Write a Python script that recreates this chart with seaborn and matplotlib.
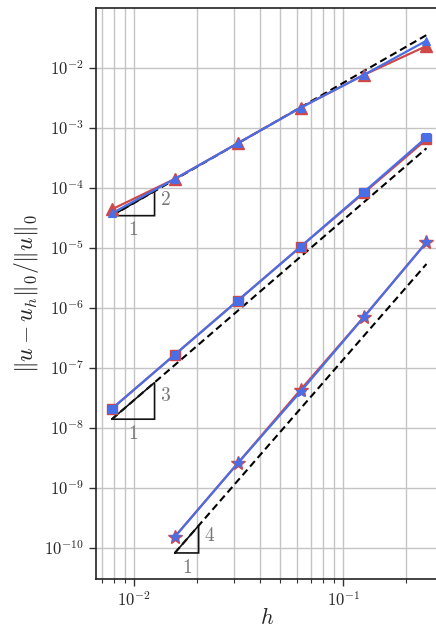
import numpy as np
import pandas as pd
import matplotlib
matplotlib.use("Agg")
import matplotlib.pyplot as plt
import matplotlib.ticker as mticker
import seaborn as sns

# Mesh sizes
h = [1/128, 1/64, 1/32, 1/16, 1/8, 1/4]

# Relative L2 errors, first-order elements (triangles)
err_p1_red = [4.36e-5, 1.40e-4, 5.5e-4, 2.16e-3, 7.55e-3, 2.30e-2]
err_p1_blue = [3.74e-5, 1.40e-4, 5.5e-4, 2.16e-3, 7.55e-3, 2.82e-2]
# Second-order elements (squares)
err_p2_red = [2.07e-8, 1.65e-7, 1.31e-6, 1.04e-5, 8.1e-5, 6.4e-4]
err_p2_blue = [2.07e-8, 1.65e-7, 1.31e-6, 1.04e-5, 8.4e-5, 6.9e-4]
# Third-order elements (stars), coarsest five meshes
h_p3 = [1/64, 1/32, 1/16, 1/8, 1/4]
err_p3_red = [1.52e-10, 2.55e-9, 4.3e-8, 6.9e-7, 1.23e-5]
err_p3_blue = [1.52e-10, 2.55e-9, 4.0e-8, 6.9e-7, 1.23e-5]

# Reference slopes C*h^p, with C fixed by the value at h = 1/4
ref_slopes = [2, 3, 4]
ref_at_quarter = [3.5e-2, 4.54e-4, 5.35e-6]
ref_h_start = [1/128, 1/128, 1/64]
tri_width = [1.6, 1.6, 1.3]

# Decade ticks
x_tick_exponents = [-2, -1]
y_tick_exponents = list(range(-10, -1))

sns.set_style("ticks")
plt.rcParams["font.family"] = ["DejaVu Serif", "DejaVu Sans"]
plt.rcParams["mathtext.fontset"] = "cm"

RED = "#d04848"
BLUE = "#4a6ee6"

fig = plt.figure(figsize=(4.36, 6.30), dpi=100)
ax = fig.add_axes([0.2195, 0.0805, 0.7805, 0.9063])

groups = [
    (h, err_p1_red, err_p1_blue, "^", 8, 6),
    (h, err_p2_red, err_p2_blue, "s", 7, 5.5),
    (h_p3, err_p3_red, err_p3_blue, "*", 10, 8),
]
for hh, er, eb, mk, ms_r, ms_b in groups:
    df = pd.DataFrame({"h": hh, "red": er, "blue": eb})
    sns.lineplot(data=df, x="h", y="red", ax=ax, color=RED, lw=1.6,
                 marker=mk, markersize=ms_r, markeredgecolor=RED,
                 markeredgewidth=1.0, zorder=4)
    sns.lineplot(data=df, x="h", y="blue", ax=ax, color=BLUE, lw=1.6,
                 marker=mk, markersize=ms_b, markeredgecolor=BLUE,
                 markeredgewidth=0.8, zorder=5)

# Dashed reference lines and slope triangles
for p, c4, h0, w in zip(ref_slopes, ref_at_quarter, ref_h_start, tri_width):
    C = c4 / 0.25 ** p
    hr = np.array([h0, 0.25])
    ax.plot(hr, C * hr ** p, ls=(0, (3.5, 2)), color="black", lw=1.5, zorder=3)
    y0 = C * h0 ** p
    h1 = h0 * w
    y1 = y0 * w ** p
    ax.plot([h0, h1, h1, h0], [y0, y0, y1, y0], color="#111111", lw=1.2,
            solid_joinstyle="miter", zorder=3)
    ax.text(h1 * 1.06, y0 * (y1 / y0) ** 0.62, f"${p}$", color="#777777",
            fontsize=14, ha="left", va="center")
    ax.text(np.sqrt(h0 * h1), y0 / 1.25, "$1$", color="#777777",
            fontsize=14, ha="center", va="top")

ax.set_xscale("log")
ax.set_yscale("log")
ax.set_xlim(10 ** -2.1847, 10 ** -0.5565)
ax.set_ylim(10 ** -10.527, 10 ** -1.01)

ax.xaxis.set_major_locator(mticker.FixedLocator([10.0 ** e for e in x_tick_exponents]))
ax.yaxis.set_major_locator(mticker.FixedLocator([10.0 ** e for e in y_tick_exponents]))
ax.yaxis.set_minor_locator(mticker.NullLocator())
fmt = mticker.FuncFormatter(lambda v, pos: f"$10^{{{int(round(np.log10(v)))}}}$")
ax.xaxis.set_major_formatter(fmt)
ax.yaxis.set_major_formatter(fmt)
ax.xaxis.set_minor_formatter(mticker.NullFormatter())

ax.grid(True, which="both", axis="x", color="#c4c4c4", lw=1.0)
ax.grid(True, which="major", axis="y", color="#c4c4c4", lw=1.0)
ax.set_axisbelow(True)

ax.tick_params(axis="both", which="major", labelsize=12, length=5, width=1,
               color="#333333")
ax.tick_params(axis="x", which="minor", length=3, width=0.8, color="#333333")
for side in ("left", "bottom", "top"):
    ax.spines[side].set_color("#222222")
    ax.spines[side].set_linewidth(1.2)
ax.spines["right"].set_visible(False)

ax.set_xlabel("$h$", fontsize=16)
ax.xaxis.set_label_coords(0.505, -0.048)
ax.set_ylabel(r"$\|u-u_h\|_0/\|u\|_0$", fontsize=17, labelpad=2)

fig.savefig("out.png", dpi=100)
